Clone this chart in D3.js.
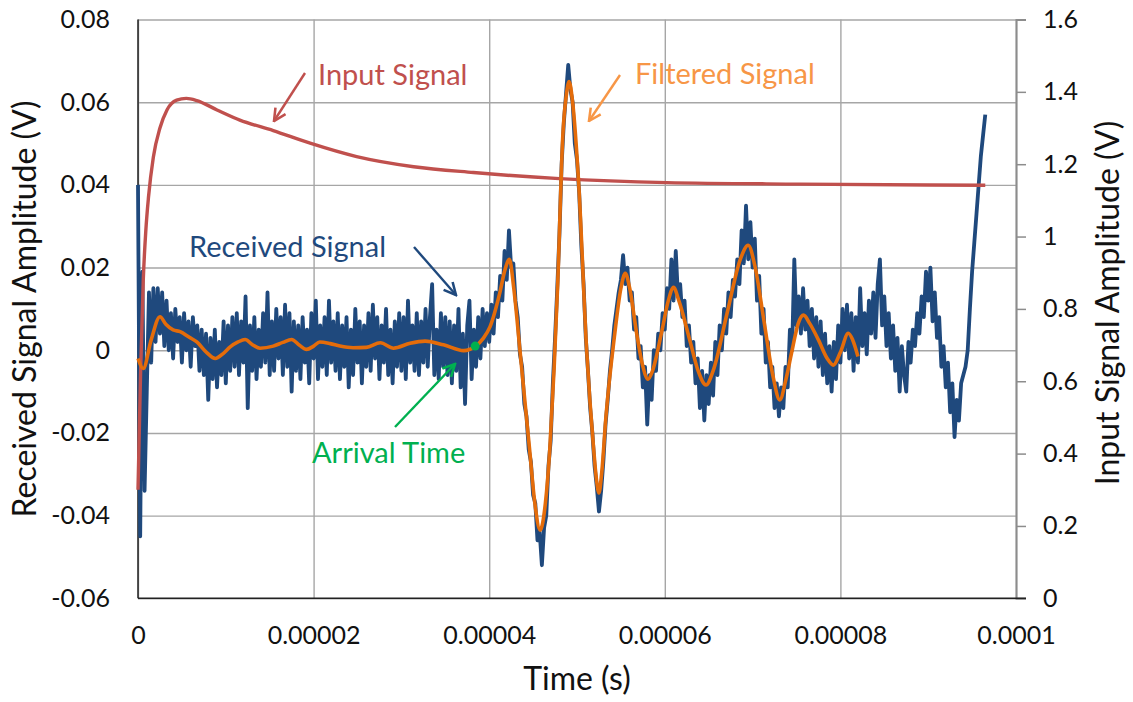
<!DOCTYPE html>
<html>
<head>
<meta charset="utf-8">
<script src="https://cdn.jsdelivr.net/npm/d3@7"></script>
<style>
  body { margin: 0; background: #fff; }
  svg { font-family: Lato, "Open Sans", sans-serif; }
</style>
</head>
<body>
<svg id="svg" width="1133" height="702"></svg>
<script>
// axis ticks
var xTicks = [0, 0.00002, 0.00004, 0.00006, 0.00008, 0.0001];
var leftTicks = [-0.06, -0.04, -0.02, 0, 0.02, 0.04, 0.06, 0.08];
var rightTicks = [0, 0.2, 0.4, 0.6, 0.8, 1, 1.2, 1.4, 1.6];

// received signal, mV, one sample every 0.25 us (one row = 1 us)
var sampleStepUs = 0.25;
var receivedMV = [
  40, -45, 19, -34,
  -10, 14, -3, 15,
  2, 15, 4, 14,
  1, 12, 0, 9,
  -2, 10, 2, 8,
  -3, 9, 0, 7,
  -4, 8, 1, 6,
  -5, 5, -6, 4,
  -12, 3, -7, 5,
  -9, 2, -6, 7,
  -8, 6, -5, 8,
  -4, 9, -6, 7,
  -3, 13, -14, 6,
  -5, 8, -7, 5,
  -4, 9, -3, 14,
  -6, 7, -5, 10,
  -2, 8, -6, 11,
  -4, 9, -10, 7,
  -5, 6, -7, 8,
  -3, 5, -8, 9,
  -2, 12, -7, 6,
  -4, 8, -6, 12,
  -3, 7, -5, 9,
  -7, 6, -4, 8,
  -9, 5, -6, 10,
  -3, 7, -8, 6,
  -4, 9, -5, 11,
  -2, 8, -7, 6,
  -3, 10, -6, 5,
  -8, 7, -4, 9,
  -5, 8, -7, 12,
  -3, 6, -5, 9,
  -6, 7, -3, 10,
  -4, 8, 16, -6,
  5, -7, 9, -4,
  8, -6, 7, -8,
  6, -5, 10, -9,
  4, -13, 6, 12,
  -7, 5, -4, 8,
  -2, 10, 1, 9,
  2, 11, 4, 14,
  8, 18, 12, 24,
  17, 29, 20, 21,
  12, 8, -1, -4,
  -13, -16, -24, -27,
  -35, -37, -46, -44,
  -52, -43, -40, -28,
  -22, -8, 3, 15,
  28, 45, 55, 62,
  69, 63, 60, 50,
  46, 38, 25, 16,
  3, -5, -14, -20,
  -28, -33, -39, -34,
  -27, -18, -12, -5,
  0, 6, 10, 14,
  17, 23, 16, 20,
  12, 14, 5, 8,
  -2, 1, -9, -4,
  -18, -6, -12, 0,
  -5, 4, 0, 9,
  5, 15, 10, 22,
  12, 24, 13, 16,
  8, 12, 1, 6,
  -3, 2, -8, -2,
  -14, -5, -17, -6,
  -13, -3, -11, 2,
  -6, 6, 0, 10,
  4, 14, 8, 17,
  13, 22, 16, 29,
  21, 35, 22, 31,
  20, 27, 12, 18,
  4, 10, -3, 2,
  -9, -4, -14, -8,
  -16, -9, -14, -4,
  -9, 5, 0, 22,
  6, 13, 4, 15,
  5, 12, 1, 10,
  -2, 8, -4, 7,
  -6, 4, -8, 1,
  -10, 2, -7, 6,
  -3, 10, 0, 11,
  -2, 9, -5, 8,
  -3, 15, 1, 9,
  -1, 12, 4, 14,
  3, 16, 22, 6,
  13, 1, 9, -2,
  6, -5, 3, -10,
  1, -6, -10, 2,
  -3, 5, 1, 9,
  4, 13, 8, 19,
  12, 20, 7, 14,
  3, 8, -4, 1,
  -9, -3, -15, -8,
  -21, -12, -17, -8,
  -6, -4, 0, 10,
  19, 26, 33, 40,
  47, 52, 57
];

// filtered signal (us, mV)
var filteredUs = [0, 0.6, 1.5, 2.5, 3.2, 4, 4.8, 5.8, 6.7, 7.8, 8.8, 9.7, 10.5, 11.4, 12.2, 13, 13.9, 15.4, 16.5, 17.5,
  18.4, 19.2, 20, 20.7, 21.9, 23, 24.5, 26, 27.6, 29.1, 31, 32.7, 34.8, 37.1, 38.4, 39.3, 40.1, 41.2, 41.8, 42.3,
  42.8, 43.5, 44.6, 45.2, 45.8, 46.4, 46.9, 47.4, 47.8, 48.4, 48.8, 49.1, 49.5, 50.2, 51.1, 51.9, 52.2, 52.5, 52.8, 53.3,
  54.3, 55, 55.5, 56, 56.8, 57.4, 58.1, 58.6, 59.7, 60.4, 61, 61.6, 62.9, 63.8, 64.7, 65.5, 67.1, 68.6, 69.5, 70.3,
  71.3, 72.3, 73.1, 73.8, 74.5, 75.2, 75.8, 76.5, 77.5, 78.5, 79.2, 80, 80.9, 81.4, 82];
var filteredMV = [-2, -4.4, 2.5, 8.1, 6.2, 4.9, 4.5, 3.2, 2, -0.5, -2, -0.8, 0.8, 2, 2.6, 1.4, 0.5, 1, 1.9, 2.6,
  1.2, 0.2, 1, 2, 1.6, 1, 0.6, 0.7, 1.8, 0.5, 1.7, 2.2, 1.3, -0.1, 0.9, 2.8, 5.7, 13.8, 19.5, 22,
  15, 0, -24, -37, -43.5, -37, -24, -4, 16, 52.5, 62, 65, 60, 40, 0, -24, -31, -34.5, -30, -16,
  4, 15, 18.6, 15, 4, -3, -7, -5, 5, 12, 15.2, 12, 2, -5, -8.4, -5, 9, 22, 25.4, 20,
  7, -6, -12, -7, 0, 6.5, 8.5, 6.5, 2.5, -2, -3.6, -0.5, 4.1, 2.5, -1.5];

// input signal (us, V) on the right axis
var inputUs = [0, 0.3, 0.6, 0.9, 1.2, 1.75, 2.5, 3.3, 4.4, 5.5, 6.7, 9, 11.6, 15.4, 19.6, 24.9, 31.4, 38.2, 48, 60.2, 75.4, 96.5];
var inputV = [0.3, 0.63, 0.88, 1.02, 1.11, 1.22, 1.3, 1.35, 1.377, 1.382, 1.376, 1.35, 1.322, 1.293, 1.258, 1.221, 1.193, 1.177, 1.16, 1.149, 1.145, 1.142];

var arrivalUs = 38.4;
var arrivalMV = 1;

var svg = d3.select("#svg");
var plotLeft = 138, plotRight = 1016, plotTop = 19.5, plotBottom = 598.3;

var x = d3.scaleLinear().domain([0, 0.0001]).range([plotLeft, plotRight]);
var yL = d3.scaleLinear().domain([-0.06, 0.08]).range([plotBottom, plotTop]);
var yR = d3.scaleLinear().domain([0, 1.6]).range([plotBottom, plotTop]);

var fmtX = function(d) { return d === 0 ? "0" : d.toFixed(5).replace(/0+$/, ""); };
var fmtL = function(d) { return Math.abs(d) < 1e-9 ? "0" : d.toFixed(2); };
var fmtR = function(d) { return String(+d.toFixed(1)); };

// grid + tick labels
var gx = svg.append("g").attr("transform", "translate(0," + plotBottom + ")")
  .call(d3.axisBottom(x).tickValues(xTicks).tickFormat(fmtX).tickSize(-(plotBottom - plotTop)).tickPadding(28));
var gl = svg.append("g").attr("transform", "translate(" + plotLeft + ",0)")
  .call(d3.axisLeft(yL).tickValues(leftTicks).tickFormat(fmtL).tickSize(-(plotRight - plotLeft)).tickPadding(28));
[gx, gl].forEach(function(g) {
  g.select(".domain").remove();
  g.selectAll(".tick line").attr("stroke", "#a6a6a6").attr("stroke-width", 1.4);
  g.selectAll(".tick text").attr("font-size", 25).attr("fill", "#111").attr("font-family", "Lato");
});

var gr = svg.append("g").attr("transform", "translate(" + plotRight + ",0)")
  .call(d3.axisRight(yR).tickValues(rightTicks).tickFormat(fmtR).tickSize(10).tickPadding(17));
gr.select(".domain").attr("stroke", "#8c8c8c").attr("stroke-width", 2);
gr.selectAll(".tick line").attr("stroke", "#8c8c8c").attr("stroke-width", 1.5);
gr.selectAll(".tick text").attr("font-size", 25).attr("fill", "#111").attr("font-family", "Lato");

// axis lines
svg.append("line").attr("x1", plotLeft).attr("x2", plotLeft).attr("y1", plotTop).attr("y2", plotBottom)
  .attr("stroke", "#222").attr("stroke-width", 1.5);
svg.append("line").attr("x1", plotLeft).attr("x2", plotRight + 10).attr("y1", plotBottom).attr("y2", plotBottom)
  .attr("stroke", "#222").attr("stroke-width", 1.5);

// series
var received = receivedMV.map(function(v, i) { return [i * sampleStepUs * 1e-6, v / 1000]; });
var filtered = filteredUs.map(function(t, i) { return [t * 1e-6, filteredMV[i] / 1000]; });
var input = inputUs.map(function(t, i) { return [t * 1e-6, inputV[i]]; });

var lineL = d3.line().x(function(d) { return x(d[0]); }).y(function(d) { return yL(d[1]); });
var lineR = d3.line().x(function(d) { return x(d[0]); }).y(function(d) { return yR(d[1]); })
  .curve(d3.curveMonotoneX);

svg.append("path").datum(received).attr("d", lineL)
  .attr("fill", "none").attr("stroke", "#1f497d").attr("stroke-width", 3.8).attr("stroke-linejoin", "round");
svg.append("path").datum(input).attr("d", lineR)
  .attr("fill", "none").attr("stroke", "#c0504d").attr("stroke-width", 3.4);
svg.append("path").datum(filtered).attr("d", lineL.curve(d3.curveMonotoneX))
  .attr("fill", "none").attr("stroke", "#e46c0a").attr("stroke-width", 3.6);
svg.append("circle").attr("cx", x(arrivalUs * 1e-6)).attr("cy", yL(arrivalMV / 1000)).attr("r", 4.5)
  .attr("fill", "#00b050");

// axis titles
svg.append("text").attr("x", (plotLeft + plotRight) / 2).attr("y", 690).attr("text-anchor", "middle")
  .attr("font-size", 32).attr("fill", "#111").text("Time (s)");
svg.append("text").attr("transform", "translate(36," + ((plotTop + plotBottom) / 2) + ") rotate(-90)")
  .attr("text-anchor", "middle").attr("font-size", 32).attr("fill", "#111").text("Received Signal Amplitude (V)");
svg.append("text").attr("transform", "translate(1119,303) rotate(-90)")
  .attr("text-anchor", "middle").attr("font-size", 32).attr("fill", "#111").text("Input Signal Amplitude (V)");

// annotations
var notes = [
  { text: "Input Signal", color: "#c0504d", tx: 318, ty: 85, a: [305, 73, 274, 121] },
  { text: "Filtered Signal", color: "#f79646", tx: 635, ty: 84, a: [620, 75, 589, 121] },
  { text: "Received Signal", color: "#1f497d", tx: 189, ty: 257, a: [414, 247, 456, 295] },
  { text: "Arrival Time", color: "#00b050", tx: 312, ty: 463, a: [395, 427, 455, 364] }
];
var defs = svg.append("defs");
notes.forEach(function(n, i) {
  defs.append("marker").attr("id", "head" + i).attr("viewBox", "0 0 10 10")
    .attr("refX", 9).attr("refY", 5).attr("markerWidth", 15).attr("markerHeight", 15)
    .attr("markerUnits", "userSpaceOnUse").attr("orient", "auto")
    .append("path").attr("d", "M1,1 L9,5 L1,9").attr("fill", "none")
    .attr("stroke", n.color).attr("stroke-width", 1.7);
  svg.append("line").attr("x1", n.a[0]).attr("y1", n.a[1]).attr("x2", n.a[2]).attr("y2", n.a[3])
    .attr("stroke", n.color).attr("stroke-width", 2.4).attr("marker-end", "url(#head" + i + ")");
  svg.append("text").attr("x", n.tx).attr("y", n.ty).attr("font-size", 29).attr("fill", n.color).text(n.text);
});
</script>
</body>
</html>
